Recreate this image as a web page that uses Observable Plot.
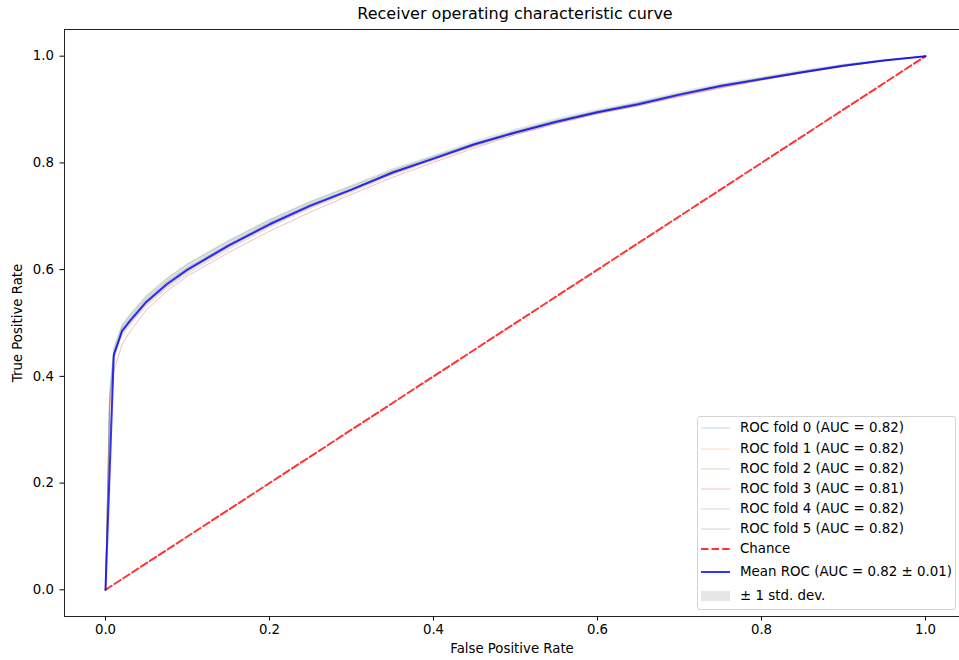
<!DOCTYPE html>
<html>
<head>
<meta charset="utf-8">
<script src="https://cdn.jsdelivr.net/npm/d3@7"></script>
<script src="https://cdn.jsdelivr.net/npm/@observablehq/plot@0.6"></script>
<style>
  html, body { margin: 0; padding: 0; background: #fff; }
  #wrap { position: relative; width: 959px; height: 660px; overflow: hidden; font-family: "DejaVu Sans", sans-serif; color: #000; }
  #title { height: 22px; margin-left: 64px; width: 902px; text-align: center; font-size: 16px; line-height: 28px; white-space: nowrap; }
  #legend { position: absolute; left: 697px; top: 416px; width: 257px; height: 192px; border: 1px solid #d4d4d4; border-radius: 3px; background: rgba(255,255,255,0.8); font-size: 13.4px; }
  .row { position: absolute; left: 0; height: 20px; width: 100%; }
  .row svg { position: absolute; left: 3px; top: 0; }
  .row span { position: absolute; left: 42px; top: 0; line-height: 20px; white-space: nowrap; }
</style>
</head>
<body>
<div id="wrap">
  <div id="title">Receiver operating characteristic curve</div>
  <div id="chart"></div>
  <div id="legend"></div>
</div>
<script>
// ---- data ----
const foldFpr = [0, 0.005, 0.0101, 0.0202, 0.0303, 0.05, 0.075, 0.1, 0.15, 0.2, 0.25, 0.3, 0.35, 0.4, 0.45, 0.5, 0.55, 0.6, 0.65, 0.7, 0.75, 0.8, 0.85, 0.9, 0.95, 1.0];
const fold0Tpr = [0, 0.36, 0.445, 0.49, 0.51, 0.545, 0.578, 0.604, 0.648, 0.689, 0.723, 0.752, 0.783, 0.81, 0.836, 0.858, 0.879, 0.897, 0.913, 0.93, 0.946, 0.959, 0.972, 0.984, 0.993, 1.0];
const fold1Tpr = [0, 0.33, 0.435, 0.482, 0.5, 0.536, 0.569, 0.597, 0.642, 0.682, 0.717, 0.748, 0.779, 0.806, 0.833, 0.856, 0.876, 0.894, 0.909, 0.926, 0.942, 0.956, 0.969, 0.981, 0.992, 1.0];
const fold2Tpr = [0, 0.37, 0.45, 0.495, 0.515, 0.55, 0.583, 0.61, 0.653, 0.693, 0.727, 0.756, 0.786, 0.812, 0.837, 0.86, 0.88, 0.897, 0.912, 0.929, 0.945, 0.959, 0.971, 0.983, 0.993, 1.0];
const fold3Tpr = [0, 0.28, 0.41, 0.46, 0.485, 0.525, 0.56, 0.588, 0.632, 0.672, 0.708, 0.741, 0.773, 0.801, 0.828, 0.853, 0.874, 0.892, 0.907, 0.924, 0.94, 0.955, 0.969, 0.981, 0.992, 1.0];
const fold4Tpr = [0, 0.35, 0.44, 0.487, 0.506, 0.541, 0.575, 0.601, 0.646, 0.686, 0.721, 0.75, 0.781, 0.808, 0.834, 0.857, 0.877, 0.895, 0.91, 0.928, 0.944, 0.957, 0.97, 0.982, 0.992, 1.0];
const fold5Tpr = [0, 0.34, 0.438, 0.484, 0.503, 0.538, 0.571, 0.599, 0.644, 0.683, 0.719, 0.749, 0.78, 0.807, 0.832, 0.856, 0.876, 0.894, 0.91, 0.926, 0.942, 0.956, 0.97, 0.982, 0.992, 1.0];
const foldAuc = [0.82, 0.82, 0.82, 0.81, 0.82, 0.82];
const foldColors = ["#1f77b4", "#ff7f0e", "#2ca02c", "#d62728", "#9467bd", "#8c564b"];

const meanFpr = [0, 0.0101, 0.0202, 0.0303, 0.05, 0.075, 0.1, 0.15, 0.2, 0.25, 0.3, 0.35, 0.4, 0.45, 0.5, 0.55, 0.6, 0.65, 0.7, 0.75, 0.8, 0.85, 0.9, 0.95, 1.0];
const meanTpr = [0, 0.44, 0.485, 0.505, 0.54, 0.573, 0.60, 0.645, 0.685, 0.72, 0.75, 0.782, 0.808, 0.835, 0.857, 0.877, 0.895, 0.91, 0.928, 0.944, 0.957, 0.97, 0.982, 0.992, 1.0];
const stdTpr = [0, 0.013, 0.012, 0.012, 0.011, 0.011, 0.011, 0.010, 0.009, 0.008, 0.008, 0.007, 0.006, 0.006, 0.006, 0.006, 0.005, 0.005, 0.005, 0.005, 0.004, 0.004, 0.003, 0.002, 0];
const meanAuc = 0.82, stdAuc = 0.01;
const chanceX = [0, 1];
const chanceY = [0, 1];
const ticks = [0, 0.2, 0.4, 0.6, 0.8, 1.0];

// ---- tables ----
const folds = [fold0Tpr, fold1Tpr, fold2Tpr, fold3Tpr, fold4Tpr, fold5Tpr];
const meanData = meanFpr.map((x, i) => ({
  x, y: meanTpr[i],
  lo: Math.max(meanTpr[i] - stdTpr[i], 0),
  hi: Math.min(meanTpr[i] + stdTpr[i], 1)
}));
const chance = chanceX.map((x, i) => ({x, y: chanceY[i]}));

const marks = [
  Plot.frame({stroke: "#222", strokeWidth: 1}),
  Plot.areaY(meanData, {x: "x", y1: "lo", y2: "hi", fill: "grey", fillOpacity: 0.2}),
  ...folds.map((tpr, k) => Plot.line(foldFpr.map((x, i) => ({x, y: tpr[i]})), {
    x: "x", y: "y", stroke: foldColors[k], strokeOpacity: 0.3, strokeWidth: 1
  })),
  Plot.line(chance, {x: "x", y: "y", stroke: "red", strokeOpacity: 0.8, strokeWidth: 2, strokeDasharray: "7.4,3.2"}),
  Plot.line(meanData, {x: "x", y: "y", stroke: "blue", strokeOpacity: 0.8, strokeWidth: 2}),
  Plot.axisX({ticks, tickFormat: d3.format(".1f"), tickSize: 4.5, tickPadding: 4,
    label: "False Positive Rate", labelArrow: "none", labelAnchor: "center", labelOffset: 36}),
  Plot.axisY({ticks, tickFormat: d3.format(".1f"), tickSize: 4.5, tickPadding: 6,
    label: "True Positive Rate", labelArrow: "none", labelAnchor: "center", labelOffset: 52})
];

const chart = Plot.plot({
  width: 959,
  height: 638,
  marginLeft: 64,
  marginTop: 7,
  marginBottom: 44,
  marginRight: 0,
  x: {domain: [-0.05, 1.05], range: [64, 966]},
  y: {domain: [-0.05, 1.05], range: [594, 7]},
  style: {fontFamily: "DejaVu Sans", fontSize: "13.3px", color: "#000", background: "#fff", overflow: "visible"},
  marks
});
document.getElementById("chart").appendChild(chart);

// ---- legend ----
const legend = document.getElementById("legend");
const rowTops = [1, 22, 42, 62, 82, 102, 122, 145, 169];
const entries = [
  ...foldAuc.map((a, k) => ({label: `ROC fold ${k} (AUC = ${a.toFixed(2)})`, type: "fold", color: foldColors[k]})),
  {label: "Chance", type: "chance"},
  {label: `Mean ROC (AUC = ${meanAuc.toFixed(2)} \u00b1 ${stdAuc.toFixed(2)})`, type: "mean"},
  {label: "\u00b1 1 std. dev.", type: "band"}
];
entries.forEach((e, i) => {
  const row = document.createElement("div");
  row.className = "row";
  row.style.top = rowTops[i] + "px";
  let sw;
  if (e.type === "fold") sw = `<line x1="0" x2="29" y1="10" y2="10" stroke="${e.color}" stroke-opacity="0.3" stroke-width="1"/>`;
  else if (e.type === "chance") sw = `<line x1="0" x2="29" y1="10" y2="10" stroke="red" stroke-opacity="0.8" stroke-width="2" stroke-dasharray="7.4,3.2"/>`;
  else if (e.type === "mean") sw = `<line x1="0" x2="29" y1="10" y2="10" stroke="blue" stroke-opacity="0.8" stroke-width="2"/>`;
  else sw = `<rect x="0" y="5" width="29" height="10" fill="grey" fill-opacity="0.2"/>`;
  row.innerHTML = `<svg width="30" height="20">${sw}</svg><span>${e.label}</span>`;
  legend.appendChild(row);
});
</script>
</body>
</html>
